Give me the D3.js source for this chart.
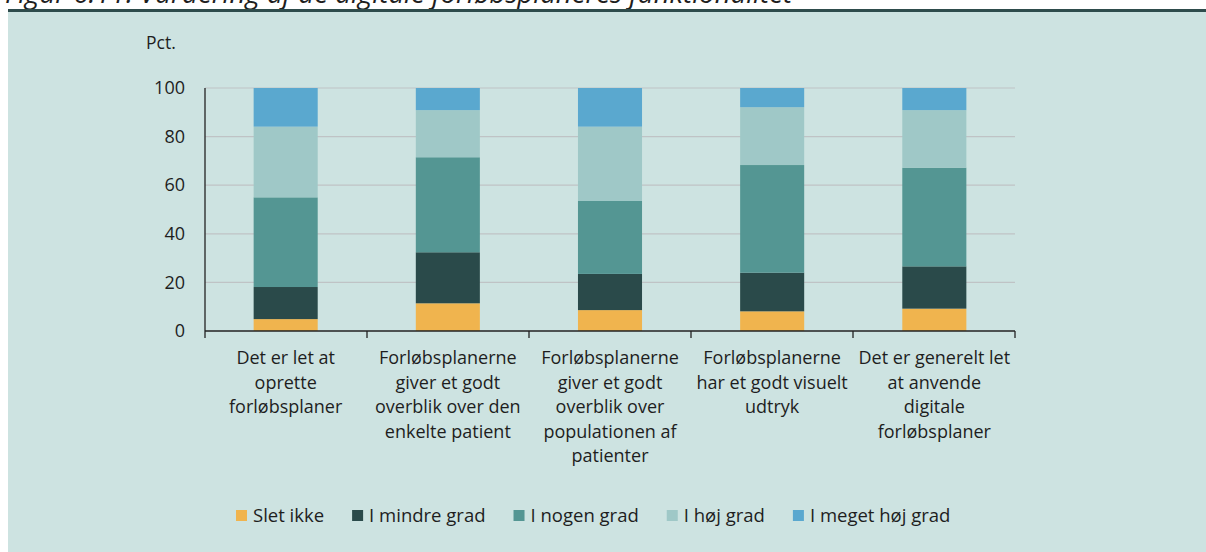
<!DOCTYPE html>
<html>
<head>
<meta charset="utf-8">
<script src="https://cdn.jsdelivr.net/npm/d3@7"></script>
<style>
  html, body { margin: 0; padding: 0; background: #ffffff; }
  svg { display: block; }
  text { font-family: "Open Sans", sans-serif; fill: #1e1e1e; }
</style>
</head>
<body>
<svg id="chart" width="1206" height="552"></svg>
<script>
// Survey statements (each wrapped onto lines as shown under the axis)
const categories = [
  ["Det er let at", "oprette", "forløbsplaner"],
  ["Forløbsplanerne", "giver et godt", "overblik over den", "enkelte patient"],
  ["Forløbsplanerne", "giver et godt", "overblik over", "populationen af", "patienter"],
  ["Forløbsplanerne", "har et godt visuelt", "udtryk"],
  ["Det er generelt let", "at anvende", "digitale", "forløbsplaner"]
];

// Answer levels, bottom to top of each bar
const seriesNames = ["Slet ikke", "I mindre grad", "I nogen grad", "I høj grad", "I meget høj grad"];
const seriesColors = ["#f0b44e", "#2a4a4a", "#549693", "#9fc8c7", "#5aa8cf"];

// Percentages per statement for each answer level
const sletIkke       = [4.9, 11.4, 8.6, 8.1, 9.2];
const iMindreGrad    = [13.2, 21.0, 14.9, 15.9, 17.4];
const iNogenGrad     = [36.9, 39.1, 30.0, 44.3, 40.6];
const iHoejGrad      = [29.1, 19.4, 30.6, 23.8, 23.7];
const iMegetHoejGrad = [15.9, 9.1, 15.9, 7.9, 9.1];

const yTicks = [0, 20, 40, 60, 80, 100];
const title = "Figur 6.11: Vurdering af de digitale forløbsplaneres funktionalitet";
const yUnit = "Pct.";

const seriesValues = [sletIkke, iMindreGrad, iNogenGrad, iHoejGrad, iMegetHoejGrad];
const rows = categories.map((c, i) => {
  const r = { idx: i };
  seriesNames.forEach((s, k) => { r[s] = seriesValues[k][i]; });
  return r;
});

const svg = d3.select("#chart");

// Title line above the panel
svg.append("text")
  .attr("x", 792).attr("y", 3)
  .attr("text-anchor", "end")
  .style("font-size", "27.6px").style("font-style", "italic")
  .text(title);

// Panel background with dark rule on top
svg.append("rect").attr("x", 8).attr("y", 9).attr("width", 1198).attr("height", 543).attr("fill", "#cde3e1");
svg.append("rect").attr("x", 8).attr("y", 9).attr("width", 1198).attr("height", 3).attr("fill", "#2e4c4c");

const x0 = 205, x1 = 1015, yTop = 88, yBot = 331;
const x = d3.scaleBand().domain(d3.range(categories.length)).range([x0, x1]).paddingInner(0.605).paddingOuter(0.3);
const y = d3.scaleLinear().domain([0, 100]).range([yBot, yTop]);

// Gridlines
svg.append("g").selectAll("line").data(yTicks.filter(t => t > 0)).join("line")
  .attr("x1", x0).attr("x2", x1)
  .attr("y1", d => y(d)).attr("y2", d => y(d))
  .attr("stroke", "#bfc3c5").attr("stroke-width", 1.2);

// Stacked bars
const stack = d3.stack().keys(seriesNames)(rows);
svg.append("g").selectAll("g").data(stack).join("g")
  .attr("fill", (d, i) => seriesColors[i])
  .selectAll("rect").data(d => d).join("rect")
  .attr("x", d => x(d.data.idx))
  .attr("width", x.bandwidth())
  .attr("y", d => y(d[1]))
  .attr("height", d => y(d[0]) - y(d[1]));

// Y axis
const yAxis = d3.axisLeft(y).tickValues(yTicks).tickSize(0).tickPadding(20);
const gy = svg.append("g").attr("transform", `translate(${x0},0)`).call(yAxis);
gy.select(".domain").remove();
gy.selectAll("text").style("font-size", "18px").style("font-family", "'Open Sans', sans-serif").attr("fill", "#1e1e1e");
svg.append("line").attr("x1", x0).attr("x2", x0).attr("y1", yTop).attr("y2", yBot + 7)
  .attr("stroke", "#222").attr("stroke-width", 1.3);

// X axis with ticks at category boundaries
const step = (x1 - x0) / categories.length;
svg.append("line").attr("x1", x0).attr("x2", x1).attr("y1", yBot).attr("y2", yBot)
  .attr("stroke", "#222").attr("stroke-width", 1.3);
svg.append("g").selectAll("line").data(d3.range(1, categories.length + 1)).join("line")
  .attr("x1", d => x0 + d * step).attr("x2", d => x0 + d * step)
  .attr("y1", yBot).attr("y2", yBot + 7)
  .attr("stroke", "#222").attr("stroke-width", 1.3);

// Category labels
const lbl = svg.append("g").selectAll("text").data(categories).join("text")
  .attr("text-anchor", "middle")
  .style("font-size", "18px");
lbl.selectAll("tspan").data((d, i) => d.map(line => ({ line, i }))).join("tspan")
  .attr("x", d => x(d.i) + x.bandwidth() / 2)
  .attr("y", (d, j) => 364 + j * 24.5)
  .text(d => d.line);

// Y unit label
svg.append("text").attr("x", 146).attr("y", 49).style("font-size", "17.5px").text(yUnit);

// Legend: swatch, label, then the next item
const lg = svg.append("g").attr("transform", "translate(236,510)");
let cx = 0;
seriesNames.forEach((name, i) => {
  lg.append("rect").attr("x", cx).attr("y", 0).attr("width", 11).attr("height", 11).attr("fill", seriesColors[i]);
  const t = lg.append("text").attr("x", cx + 17).attr("y", 11.5).style("font-size", "18.5px").text(name);
  cx += 17 + t.node().getComputedTextLength() + 28;
});
</script>
</body>
</html>
